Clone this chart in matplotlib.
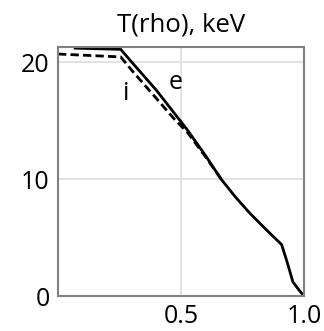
import matplotlib.pyplot as plt

# electron and ion temperature profiles, keV
rho_e = [0.07, 0.255, 0.30, 0.40, 0.526, 0.60, 0.663, 0.72, 0.779, 0.85, 0.909, 0.93, 0.955, 0.98, 1.0]
te = [21.2, 21.1, 20.0, 17.6, 14.2, 12.0, 10.0, 8.5, 7.1, 5.6, 4.4, 3.0, 1.2, 0.5, 0.0]

rho_i = [0.0, 0.255, 0.30, 0.40, 0.47, 0.526, 0.60, 0.663]
ti = [20.7, 20.45, 19.3, 16.9, 15.2, 14.0, 11.9, 10.0]

plt.rcParams['font.family'] = ['Open Sans', 'DejaVu Sans']

fig = plt.figure(figsize=(3.24, 3.31), dpi=100)
ax = fig.add_axes([58 / 324, 35 / 331, 246 / 324, 249 / 331])

ax.plot(rho_e, te, color='black', lw=2.0)
ax.plot(rho_i, ti, color='black', lw=2.0, ls=(0, (3, 1.5)))

ax.text(0.48, 18.3, 'e', fontsize=18, ha='center', va='center')
ax.text(0.276, 17.3, 'i', fontsize=18, ha='center', va='center')

ax.set_xlim(0, 1.0)
ax.set_ylim(0, 21.3)
ax.set_xticks([0.5, 1.0])
ax.set_xticklabels(['0.5', '1.0'])
ax.set_yticks([0, 10, 20])
ax.tick_params(length=0, labelsize=18, pad=6)
ax.grid(True, color='#dddddd', lw=1.2)
for s in ax.spines.values():
    s.set_color('#808080')
    s.set_linewidth(1.5)

ax.set_title('T(rho), keV', fontsize=18.5, pad=11)

fig.savefig('out.png', dpi=100)
